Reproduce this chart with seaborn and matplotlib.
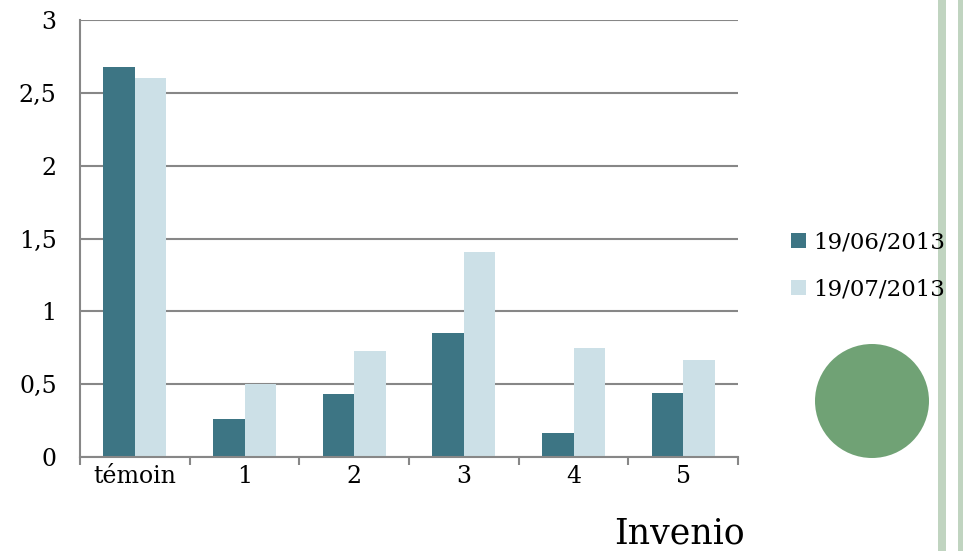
import numpy as np
import pandas as pd
import matplotlib
matplotlib.use("Agg")
import matplotlib.pyplot as plt
import matplotlib.patches as mpatches
from matplotlib.ticker import FixedLocator, FuncFormatter
import seaborn as sns

# --- data ---
categories = ['témoin', '1', '2', '3', '4', '5']
series_names = ['19/06/2013', '19/07/2013']
values_june = [2.68, 0.26, 0.43, 0.85, 0.165, 0.44]
values_july = [2.60, 0.50, 0.73, 1.41, 0.75, 0.665]
y_ticks = [0, 0.5, 1, 1.5, 2, 2.5, 3]

colors = ['#3d7584', '#cce0e7']
grid_grey = '#878787'

df = pd.DataFrame({
    'categorie': categories * 2,
    'date': [series_names[0]] * len(categories) + [series_names[1]] * len(categories),
    'valeur': values_june + values_july,
})

sns.set_style('white')
plt.rcParams['font.family'] = ['DejaVu Serif']
plt.rcParams['text.color'] = 'black'
plt.rcParams['xtick.labelcolor'] = 'black'
plt.rcParams['ytick.labelcolor'] = 'black'

W, H = 963, 551
fig = plt.figure(figsize=(W / 100, H / 100), dpi=100)
ax = fig.add_axes([80 / W, (H - 457) / H, (738 - 80) / W, (457 - 20) / H])

sns.barplot(data=df, x='categorie', y='valeur', hue='date', palette=colors,
            width=0.575, saturation=1, linewidth=0, edgecolor='none',
            ax=ax, legend=True)

ax.set_ylim(0, 3)
ax.set_xlim(-0.5, len(categories) - 0.5)
ax.set_xlabel('')
ax.set_ylabel('')

# y axis: gridlines with ticks sticking out to the left
ax.yaxis.set_major_locator(FixedLocator(y_ticks))
ax.yaxis.set_major_formatter(FuncFormatter(lambda v, p: ('%g' % v).replace('.', ',')))
ax.grid(axis='y', color=grid_grey, linewidth=1.5)
ax.set_axisbelow(True)
ax.tick_params(axis='y', length=5.8, width=1.5, color=grid_grey, pad=11,
               labelsize=17, labelcolor='black')

# x axis: ticks at category boundaries, labels centered
ax.xaxis.set_major_locator(FixedLocator(np.arange(-0.5, len(categories), 1.0)))
ax.xaxis.set_minor_locator(FixedLocator(np.arange(len(categories))))
ax.set_xticklabels([], minor=False)
ax.set_xticklabels(categories, minor=True)
ax.tick_params(axis='x', which='major', direction='out', length=6, width=1.5,
               color=grid_grey, bottom=True)
ax.tick_params(axis='x', which='minor', length=0, pad=6, labelsize=17,
               labelcolor='black')

for side in ['top', 'right']:
    ax.spines[side].set_visible(False)
for side in ['left', 'bottom']:
    ax.spines[side].set_color(grid_grey)
    ax.spines[side].set_linewidth(1.5)

# legend on the right
handles, labels = ax.get_legend_handles_labels()
ax.get_legend().remove()
fig.legend(handles, labels, loc='center left', bbox_to_anchor=(791 / W, (H - 266) / H),
           frameon=False, fontsize=16.5, handlelength=0.65, handleheight=0.65,
           handletextpad=0.3, labelspacing=1.1, borderpad=0, borderaxespad=0)

# slide decorations
fig.patches.append(mpatches.Circle((872 / 100, (H - 401) / 100), 0.57,
                                   transform=fig.dpi_scale_trans,
                                   facecolor='#70a275', edgecolor='none'))
fig.patches.append(mpatches.Rectangle((938 / W, 0), 8 / W, 1, transform=fig.transFigure,
                                      facecolor='#c0d4c0', edgecolor='none'))
fig.patches.append(mpatches.Rectangle((958 / W, 0), 5 / W, 1, transform=fig.transFigure,
                                      facecolor='#c0d4c0', edgecolor='none'))

fig.text(745 / W, (H - 543) / H, 'Invenio', ha='right', va='baseline', fontsize=25)

fig.savefig('out.png', dpi=100)
